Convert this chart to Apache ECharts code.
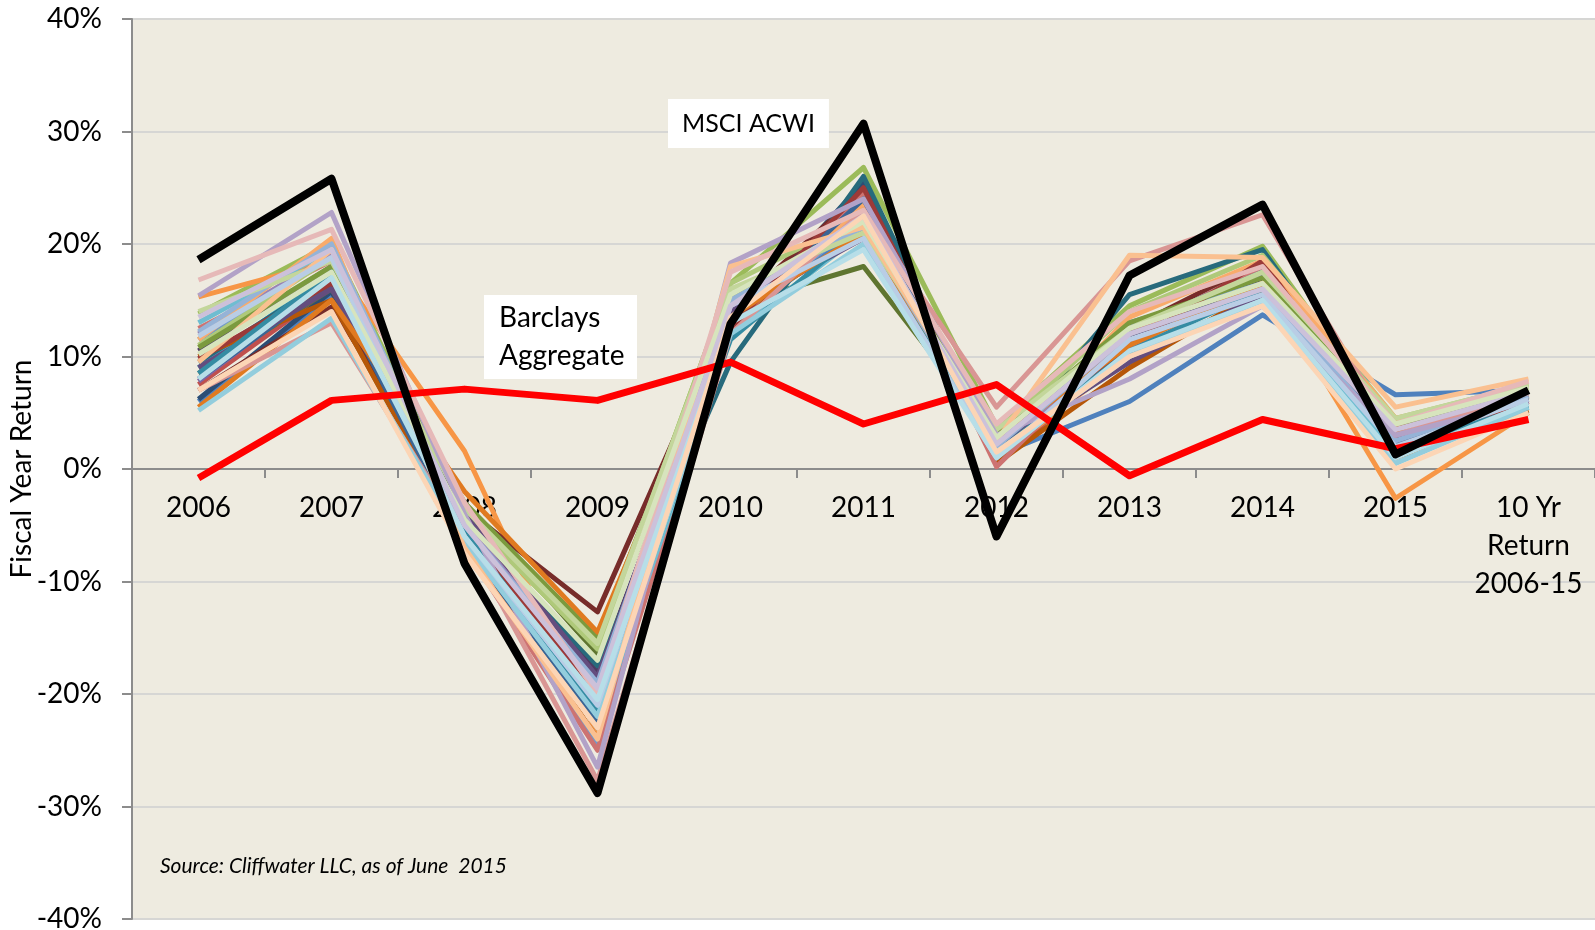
<!DOCTYPE html>
<html>
<head>
<meta charset="utf-8">
<title>Fiscal Year Return</title>
<script src="https://cdn.jsdelivr.net/npm/echarts@6/dist/echarts.min.js"></script>
<style>
  html, body { margin: 0; padding: 0; background: #fff; }
  #chart { width: 1595px; height: 930px; }
</style>
</head>
<body>
<div id="chart"></div>
<script>
const categories = ['2006', '2007', '2008', '2009', '2010', '2011', '2012', '2013', '2014', '2015', '10 Yr\nReturn\n2006-15']

const msciAcwi = [18.6, 25.8, -8.4, -28.8, 12.9, 30.7, -6.0, 17.2, 23.5, 1.3, 7.0]
const barclaysAgg = [-0.8, 6.1, 7.1, 6.1, 9.5, 4.0, 7.5, -0.6, 4.4, 1.8, 4.4]

// one row per pension plan
const fundReturns = [
  [6.0, 15.5, -5.5, -20.5, 13.0, 21.5, 1.2, 6.0, 13.7, 6.6, 7.0],
  [7.5, 16.0, -6.5, -24.5, 12.0, 25.0, 0.5, 10.5, 18.5, 2.5, 6.0],
  [13.8, 20.0, -4.0, -16.0, 16.5, 26.8, 3.8, 14.5, 19.8, 3.5, 7.2],
  [7.8, 16.8, -5.0, -20.0, 13.5, 24.0, 2.5, 11.0, 17.5, 2.8, 6.0],
  [9.0, 17.5, -6.0, -22.0, 12.5, 23.0, 1.5, 11.5, 16.5, 1.5, 5.5],
  [15.3, 18.5, 1.6, -23.5, 12.0, 24.5, 1.0, 10.0, 17.0, -2.6, 5.0],
  [6.2, 15.8, -5.8, -21.0, 12.5, 25.5, 1.0, 12.0, 18.0, 3.0, 6.0],
  [7.0, 14.4, -3.5, -12.7, 14.0, 24.8, 2.0, 12.5, 18.5, 3.5, 6.8],
  [8.5, 16.0, -3.0, -16.5, 14.5, 18.0, 2.8, 9.5, 15.5, 3.2, 6.3],
  [10.5, 18.0, -4.5, -18.0, 13.0, 24.0, 2.2, 11.5, 17.0, 2.5, 6.0],
  [9.5, 17.0, -5.0, -17.5, 9.5, 26.0, 1.5, 15.5, 19.5, 3.0, 5.8],
  [10.0, 15.0, -6.5, -24.0, 12.0, 24.0, 0.5, 9.0, 16.0, 1.0, 5.2],
  [11.5, 19.0, -5.5, -24.5, 13.5, 22.0, 1.2, 13.0, 16.5, 2.0, 6.5],
  [12.5, 18.5, -7.0, -25.0, 12.5, 24.5, 0.2, 12.0, 18.0, 3.5, 6.2],
  [11.0, 18.8, -4.0, -16.0, 16.5, 22.5, 3.2, 14.0, 19.0, 4.5, 7.5],
  [12.0, 19.0, -4.5, -19.5, 14.0, 23.5, 2.0, 11.0, 16.5, 3.0, 6.5],
  [13.0, 19.5, -6.0, -23.0, 12.0, 21.0, 1.0, 10.5, 15.0, 1.5, 5.0],
  [11.5, 20.5, -7.5, -22.5, 13.0, 23.5, 1.5, 13.5, 18.5, 4.5, 7.0],
  [8.0, 16.5, -6.5, -22.5, 13.0, 24.0, 1.8, 12.5, 17.5, 2.5, 6.2],
  [9.8, 16.5, -5.0, -20.5, 12.5, 25.0, 1.0, 11.0, 18.5, 2.0, 6.0],
  [10.8, 18.0, -3.0, -15.0, 15.0, 22.0, 3.0, 13.0, 17.0, 4.0, 7.0],
  [9.0, 16.0, -4.0, -18.5, 14.0, 20.5, 2.0, 9.5, 15.5, 3.0, 6.0],
  [8.5, 17.5, -5.5, -21.5, 11.5, 21.5, 1.5, 10.5, 16.0, 2.0, 5.5],
  [5.5, 15.0, -2.0, -14.5, 13.5, 21.0, 2.5, 11.0, 16.5, 3.5, 6.5],
  [12.2, 20.0, -5.0, -19.0, 15.0, 21.5, 2.0, 12.0, 16.0, 2.5, 6.5],
  [7.0, 13.0, -6.0, -27.7, 12.0, 23.0, 5.5, 18.5, 22.6, 3.0, 6.8],
  [14.0, 18.5, -3.5, -15.5, 16.0, 21.0, 3.5, 12.5, 17.5, 4.5, 7.5],
  [15.4, 22.8, -4.0, -26.5, 18.3, 24.0, 3.0, 8.0, 14.5, 3.0, 6.0],
  [5.2, 13.4, -6.5, -22.0, 12.0, 20.0, 1.5, 10.0, 15.0, 0.5, 5.5],
  [9.5, 19.5, -7.0, -24.0, 18.0, 21.5, 2.5, 19.0, 18.8, 5.5, 8.0],
  [11.8, 18.8, -6.0, -21.0, 14.5, 20.5, 1.0, 11.5, 15.5, 2.0, 6.2],
  [16.8, 21.3, -3.0, -20.0, 17.5, 23.0, 4.0, 14.0, 18.0, 4.0, 7.8],
  [10.2, 17.5, -4.5, -17.0, 15.5, 22.0, 2.8, 12.5, 16.5, 4.0, 7.2],
  [13.5, 19.5, -5.0, -19.5, 14.5, 22.5, 2.2, 12.0, 16.0, 3.5, 6.8],
  [8.0, 17.0, -6.0, -20.5, 13.0, 19.5, 1.0, 10.5, 15.0, 1.0, 5.8],
  [7.0, 14.0, -7.5, -23.0, 13.5, 22.5, 1.5, 10.0, 14.5, 0.0, 5.0]
]

const fundColors = [
  '#4F81BD', '#C0504D', '#9BBB59', '#8064A2', '#4BACC6', '#F79646',
  '#2C4D75', '#772C2A', '#5F7530', '#4D3B62', '#276A7C', '#B65708',
  '#729ACA', '#CD7371', '#AFC97A', '#9983B5', '#6FBDD1', '#F9AB6B',
  '#3A6595', '#9C3A38', '#7B9A3E', '#644D7E', '#358CA3', '#E07A20',
  '#95B3D7', '#D99694', '#C3D69B', '#B2A2C7', '#93CDDD', '#FAC090',
  '#B9CDE5', '#E6B9B8', '#D7E4BD', '#CCC1DA', '#B7DEE8', '#FCD5B5'
]

const font = 'Lato, "Open Sans", sans-serif'
const axisGrey = '#8C8C8C'

const chart = echarts.init(document.getElementById('chart'))

const series = fundReturns.map((row, i) => ({
  name: 'Fund ' + (i + 1),
  type: 'line',
  data: row,
  showSymbol: false,
  lineStyle: { color: fundColors[i % fundColors.length], width: 5, join: 'round' },
  z: 2
}))

series.push({
  name: 'Barclays Aggregate',
  type: 'line',
  data: barclaysAgg,
  showSymbol: false,
  lineStyle: { color: '#FF0000', width: 7, join: 'round' },
  z: 3
})
series.push({
  name: 'MSCI ACWI',
  type: 'line',
  data: msciAcwi,
  showSymbol: false,
  lineStyle: { color: '#000000', width: 8, join: 'round' },
  z: 4
})

chart.setOption({
  animation: false,
  textStyle: { fontFamily: font },
  grid: {
    left: 132,
    right: 0,
    top: 19,
    bottom: 11,
    containLabel: false,
    outerBoundsMode: 'none',
    show: true,
    backgroundColor: '#EEEBE0',
    borderWidth: 0
  },
  xAxis: {
    type: 'category',
    data: categories,
    boundaryGap: true,
    position: 'bottom',
    // axis sits on the 0% line: half of the 900px-tall grid above the bottom edge
    offset: -450,
    axisLine: { onZero: false, lineStyle: { color: axisGrey, width: 2 } },
    axisTick: { show: true, length: 9, interval: 0, lineStyle: { color: axisGrey, width: 2 } },
    axisLabel: {
      interval: 0,
      margin: 20,
      color: '#000',
      fontSize: 28,
      lineHeight: 38,
      fontFamily: font
    },
    splitLine: { show: false }
  },
  yAxis: {
    type: 'value',
    min: -40,
    max: 40,
    interval: 10,
    name: 'Fiscal Year Return',
    nameLocation: 'middle',
    nameGap: 96,
    nameRotate: 90,
    nameMoveOverlap: false,
    nameTextStyle: { color: '#000', fontSize: 28, fontFamily: font },
    axisLine: { show: true, lineStyle: { color: axisGrey, width: 2 } },
    axisTick: { show: true, length: 10, inside: false, lineStyle: { color: axisGrey, width: 2 } },
    axisLabel: {
      formatter: '{value}%',
      color: '#000',
      fontSize: 28,
      margin: 30,
      fontFamily: font
    },
    splitLine: { show: true, lineStyle: { color: '#D6D6D4', width: 2 } }
  },
  graphic: [
    {
      type: 'text',
      left: 668,
      top: 99,
      z: 100,
      style: {
        text: 'MSCI ACWI',
        fontSize: 25,
        fontFamily: font,
        fill: '#000',
        backgroundColor: '#fff',
        padding: [12, 14, 12, 14]
      }
    },
    {
      type: 'text',
      left: 484,
      top: 295,
      z: 100,
      style: {
        text: 'Barclays\nAggregate',
        fontSize: 28,
        lineHeight: 38,
        align: 'center',
        width: 123,
        fontFamily: font,
        fill: '#000',
        backgroundColor: '#fff',
        padding: [4, 15, 4, 15]
      }
    },
    {
      type: 'text',
      left: 160,
      top: 856,
      z: 100,
      style: {
        text: 'Source: Cliffwater LLC, as of June  2015',
        fontSize: 21,
        fontStyle: 'italic',
        fontFamily: font,
        fill: '#000'
      }
    }
  ],
  series: series
})
</script>
</body>
</html>
